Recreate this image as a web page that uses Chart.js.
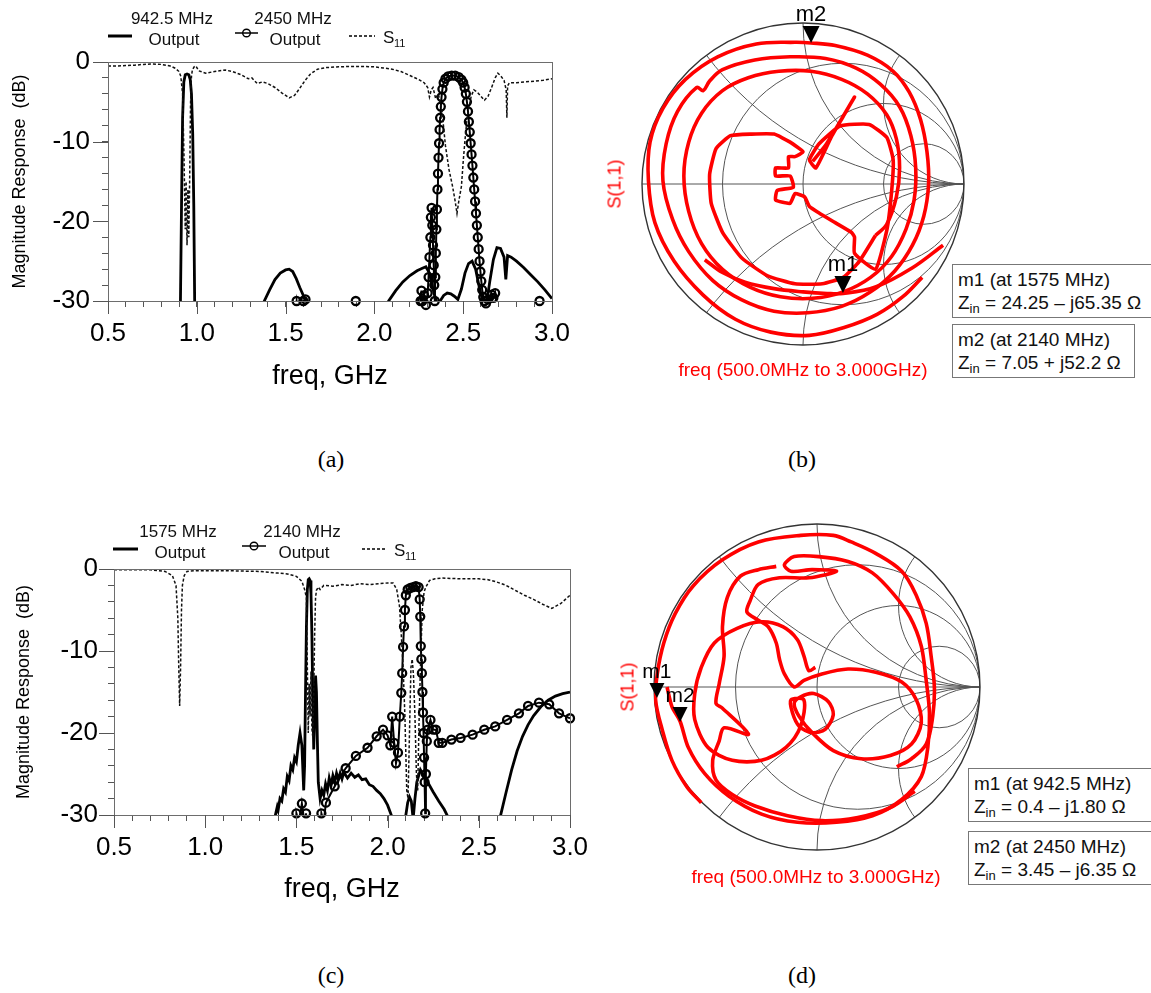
<!DOCTYPE html>
<html>
<head>
<meta charset="utf-8">
<script src="https://cdn.jsdelivr.net/npm/chart.js@4.4.1/dist/chart.umd.min.js"></script>
<style>
  html, body { margin: 0; padding: 0; background: #fff; }
  #page { position: relative; width: 1151px; height: 993px; overflow: hidden; font-family: "Liberation Sans", Arial, sans-serif; }
  canvas { position: absolute; }
  .cap { position: absolute; font: 24px "Liberation Serif", "Times New Roman", serif; color: #000; transform: translate(-50%, -50%); }
  .box { position: absolute; border: 1.5px solid #777; background: #fff; font-size: 19px; line-height: 23px; padding: 3px 5px; white-space: nowrap; color: #111; }
  .box sub { font-size: 13px; vertical-align: -4px; line-height: 0; }
  .red { position: absolute; color: #ff0000; font-size: 19px; white-space: nowrap; transform: translate(-50%, -50%); }
</style>
</head>
<body>
<div id="page">
  <canvas id="chartA" width="600" height="400" style="left:0;top:0"></canvas>
  <canvas id="chartB" width="400" height="400" style="left:600px;top:0"></canvas>
  <canvas id="chartC" width="600" height="420" style="left:0;top:500px"></canvas>
  <canvas id="chartD" width="400" height="400" style="left:600px;top:500px"></canvas>

  <div class="red" style="left:615px;top:184px;font-size:18px;transform:translate(-50%,-50%) rotate(-90deg)">S(1,1)</div>
  <div class="red" style="left:803px;top:370px">freq (500.0MHz to 3.000GHz)</div>
  <div class="box" style="left:952px;top:264px;width:200px">m1 (at 1575 MHz)<br>Z<sub>in</sub> = 24.25 – j65.35 Ω</div>
  <div class="box" style="left:952px;top:324px;width:171px">m2 (at 2140 MHz)<br>Z<sub>in</sub> = 7.05 + j52.2 Ω</div>

  <div class="red" style="left:628px;top:687px;font-size:18px;transform:translate(-50%,-50%) rotate(-90deg)">S(1,1)</div>
  <div class="red" style="left:816px;top:877px">freq (500.0MHz to 3.000GHz)</div>
  <div class="box" style="left:968px;top:768px;width:190px">m1 (at 942.5 MHz)<br>Z<sub>in</sub> = 0.4 – j1.80 Ω</div>
  <div class="box" style="left:968px;top:831px;width:190px">m2 (at 2450 MHz)<br>Z<sub>in</sub> = 3.45 – j6.35 Ω</div>

  <div class="cap" style="left:331px;top:459px">(a)</div>
  <div class="cap" style="left:802px;top:459px">(b)</div>
  <div class="cap" style="left:331px;top:975px">(c)</div>
  <div class="cap" style="left:802px;top:975px">(d)</div>
</div>
<script>
const FONT = '"Liberation Sans", Arial, sans-serif';

// axis ticks
const freqTicks = [0.5, 1.0, 1.5, 2.0, 2.5, 3.0];
const dbTicks = [0, -10, -20, -30];

// (a) [GHz, dB]; -40 means below the -30 dB floor of the plot
const outA942 = [[0.5,-40],[0.9,-40],[0.908,-30],[0.914,-18],[0.92,-7],[0.927,-2.5],[0.935,-1.6],[0.945,-1.5],[0.955,-1.6],[0.963,-2.2],[0.97,-4],[0.977,-9],[0.983,-18],[0.988,-30],[0.995,-40],
  [1.36,-40],[1.38,-30],[1.41,-28.6],[1.44,-27.3],[1.47,-26.5],[1.5,-26.1],[1.52,-26],[1.54,-26.3],[1.56,-27.2],[1.58,-28.3],[1.6,-29.3],[1.62,-30.5],[1.64,-40],
  [2.06,-40],[2.08,-30],[2.12,-28.7],[2.16,-27.6],[2.2,-26.8],[2.24,-26.2],[2.27,-25.9],[2.29,-25.7],[2.31,-26.5],[2.33,-28.5],[2.35,-30.2],[2.37,-30],[2.39,-29.3],[2.41,-29],[2.43,-29.1],[2.45,-29.4],[2.47,-29.8],
  [2.49,-28.5],[2.51,-26.5],[2.53,-25.3],[2.55,-25],[2.57,-26],[2.59,-28.2],[2.61,-30],[2.63,-30.5],[2.65,-27.5],[2.67,-24.8],[2.69,-23.3],[2.71,-23.4],[2.73,-24.5],[2.74,-27.3],[2.75,-24.3],[2.77,-24.5],
  [2.8,-25],[2.84,-25.8],[2.88,-26.7],[2.92,-27.6],[2.96,-28.6],[3.0,-29.7]];
const outA2450 = [[0.5,-40],[1.5,-40],[1.562,-30],[1.58,-33],[1.6,-30],[1.612,-29.8],[1.63,-40],[1.88,-40],[1.895,-30],[1.91,-40],
  [2.24,-40],[2.26,-30],[2.265,-28.7],[2.27,-30],[2.28,-29.3],[2.29,-30.5],[2.3,-29],[2.305,-27],[2.31,-24.5],[2.315,-22],[2.318,-19.5],[2.322,-18.3],[2.326,-20.5],[2.33,-23],[2.334,-25.5],[2.337,-28],[2.34,-30],
  [2.343,-27],[2.346,-24],[2.349,-21],[2.352,-18.5],[2.355,-16],[2.358,-14],[2.361,-12],[2.364,-10.2],[2.367,-8.5],[2.37,-7],[2.374,-5.6],[2.378,-4.4],[2.383,-3.4],[2.39,-2.6],[2.4,-2.1],
  [2.415,-1.8],[2.435,-1.7],[2.455,-1.7],[2.475,-1.9],[2.49,-2.2],[2.5,-2.6],[2.508,-3.2],[2.515,-4],[2.521,-5],[2.527,-6.2],[2.532,-7.5],[2.537,-8.8],[2.542,-10.2],[2.547,-11.6],[2.552,-13],
  [2.557,-14.5],[2.562,-16],[2.567,-17.5],[2.572,-19],[2.577,-20.5],[2.582,-22],[2.587,-23.5],[2.592,-25],[2.597,-26.3],[2.602,-27.5],[2.607,-28.6],[2.613,-29.5],[2.62,-30],[2.628,-30.3],
  [2.64,-29.8],[2.65,-31],[2.66,-29.2],[2.67,-29.6],[2.68,-29],[2.69,-31],[2.71,-40],[2.91,-40],[2.93,-30],[2.95,-40],[3.0,-40]];
const s11A = [[0.5,-0.5],[0.55,-0.5],[0.6,-0.45],[0.65,-0.4],[0.7,-0.3],[0.75,-0.25],[0.8,-0.3],[0.85,-0.5],[0.88,-0.8],[0.9,-1.2],[0.91,-1.8],[0.92,-4],[0.928,-12],[0.935,-21],[0.94,-15],
  [0.945,-23],[0.95,-16],[0.955,-22],[0.96,-14.5],[0.965,-5],[0.97,-1.8],[0.975,-1.0],[0.985,-0.6],[0.995,-0.5],[1.01,-1.1],[1.05,-1.4],[1.1,-1.2],[1.16,-1.0],[1.2,-1.2],[1.25,-1.6],[1.29,-2.1],
  [1.31,-2.0],[1.34,-2.7],[1.37,-2.5],[1.4,-2.7],[1.44,-3.2],[1.48,-3.9],[1.52,-4.5],[1.55,-4.2],[1.58,-3.3],[1.61,-2.3],[1.64,-1.5],[1.68,-0.9],[1.73,-0.7],[1.8,-0.6],[1.9,-0.55],[2.0,-0.6],
  [2.05,-0.75],[2.1,-0.9],[2.15,-1.2],[2.2,-1.7],[2.25,-2.2],[2.28,-2.6],[2.3,-3.2],[2.31,-4.4],[2.32,-3.5],[2.33,-3.2],[2.345,-4.6],[2.36,-4.0],[2.38,-6],[2.4,-10.5],[2.42,-13.5],[2.44,-15.6],
  [2.455,-17.5],[2.465,-19],[2.475,-17.5],[2.49,-15.6],[2.5,-12.5],[2.51,-9.8],[2.52,-7.5],[2.53,-6],[2.545,-4.3],[2.56,-3.5],[2.58,-3.8],[2.6,-4.3],[2.62,-4.8],[2.64,-4.3],[2.66,-3.2],
  [2.68,-2.0],[2.695,-1.4],[2.71,-1.7],[2.73,-2.3],[2.742,-3.5],[2.746,-7],[2.75,-3.0],[2.76,-2.6],[2.8,-2.6],[2.85,-2.5],[2.9,-2.4],[2.95,-2.3],[3.0,-2.1]];

// (c)
const outC1575 = [[0.5,-40],[1.37,-40],[1.385,-30],[1.395,-29],[1.4,-29.4],[1.41,-28],[1.42,-28.3],[1.43,-26.8],[1.44,-27.2],[1.45,-25.3],[1.46,-25.8],[1.47,-24],[1.48,-24.5],[1.49,-23],[1.5,-23.5],
  [1.51,-21.5],[1.52,-20],[1.53,-21.5],[1.54,-27],[1.545,-24],[1.55,-15],[1.555,-7],[1.56,-2.5],[1.565,-1.3],[1.57,-1.2],[1.575,-1.4],[1.58,-3],[1.585,-8],[1.59,-16],[1.595,-22],[1.6,-18],
  [1.605,-13],[1.61,-15],[1.615,-21],[1.62,-26],[1.63,-28],[1.64,-27],[1.65,-27.6],[1.66,-26.2],[1.67,-27],[1.68,-25.5],[1.69,-26.4],[1.7,-25.2],[1.71,-26],[1.72,-24.9],[1.73,-25.7],[1.74,-24.9],
  [1.75,-25.6],[1.76,-24.8],[1.78,-25.5],[1.8,-24.9],[1.82,-25.4],[1.84,-25.1],[1.86,-25.7],[1.88,-25.6],[1.9,-26.3],[1.92,-26.5],[1.94,-27],[1.96,-27.4],[1.98,-28],[2.0,-28.8],[2.02,-30],[2.03,-40],
  [2.09,-40],[2.1,-30],[2.11,-28.5],[2.12,-27.8],[2.13,-28.3],[2.14,-30.5],[2.15,-28],[2.16,-26],[2.18,-24.5],[2.2,-25.3],[2.22,-26],[2.25,-27.2],[2.28,-28.3],[2.31,-29.3],[2.33,-30.2],[2.35,-40],
  [2.6,-40],[2.62,-30],[2.65,-27.2],[2.68,-24.5],[2.71,-22.2],[2.74,-20.4],[2.77,-19],[2.8,-17.9],[2.84,-16.8],[2.88,-16],[2.92,-15.5],[2.96,-15.2],[3.0,-15.0]];
const outC2140 = [[0.5,-40],[1.49,-40],[1.5,-29.8],[1.515,-31],[1.53,-28.6],[1.545,-31],[1.553,-29.8],[1.57,-40],[1.62,-40],[1.637,-29.8],[1.65,-30.8],[1.662,-28.5],[1.71,-26.5],[1.77,-24.3],
  [1.826,-22.8],[1.89,-21.8],[1.94,-20.4],[1.975,-19.6],[2.0,-20.3],[2.015,-21.5],[2.025,-18],[2.036,-21.2],[2.046,-23.7],[2.057,-22.4],[2.067,-18],[2.075,-15.1],[2.08,-12.7],[2.085,-9.5],
  [2.09,-7],[2.095,-5],[2.1,-3.2],[2.11,-2.5],[2.125,-2.3],[2.14,-2.2],[2.155,-2.1],[2.17,-2.2],[2.176,-3.7],[2.179,-5.8],[2.182,-9.4],[2.185,-11],[2.188,-12.7],[2.191,-15],[2.194,-17.5],
  [2.197,-20],[2.2,-23],[2.203,-26],[2.206,-29.8],[2.21,-25],[2.215,-21],[2.22,-19.6],[2.235,-18.4],[2.25,-19.6],[2.265,-19.6],[2.28,-21.2],[2.3,-21.2],[2.35,-20.8],[2.4,-20.6],[2.466,-20.2],
  [2.53,-19.6],[2.59,-19.2],[2.655,-18.4],[2.72,-17.6],[2.77,-16.7],[2.83,-16.3],[2.886,-16.5],[2.94,-17.6],[3.0,-18.2]];
const s11C = [[0.5,-0.1],[0.6,-0.1],[0.7,-0.1],[0.78,-0.3],[0.82,-0.8],[0.84,-2.0],[0.85,-6],[0.855,-12],[0.86,-16.7],[0.865,-12],[0.87,-5],[0.875,-2],[0.885,-0.8],[0.9,-0.3],[0.95,-0.2],
  [1.1,-0.2],[1.2,-0.25],[1.3,-0.3],[1.4,-0.5],[1.45,-0.6],[1.5,-0.9],[1.53,-1.5],[1.545,-2.5],[1.555,-3.5],[1.56,-12],[1.565,-20],[1.57,-14],[1.575,-18],[1.58,-12.5],[1.585,-19.5],[1.59,-20.5],
  [1.595,-15],[1.6,-8],[1.605,-3.5],[1.61,-2.6],[1.62,-2.2],[1.63,-2.5],[1.65,-2.0],[1.7,-2.1],[1.75,-1.9],[1.8,-2.0],[1.85,-1.8],[1.9,-1.9],[1.95,-1.8],[2.0,-1.7],[2.03,-1.7],[2.05,-2.5],
  [2.065,-4.5],[2.075,-8],[2.085,-12],[2.095,-18],[2.105,-27],[2.112,-28],[2.12,-20],[2.128,-12],[2.135,-11],[2.142,-13],[2.15,-18],[2.158,-25],[2.165,-27],[2.172,-19],[2.18,-12],[2.19,-5],
  [2.2,-2.8],[2.21,-2.2],[2.23,-1.4],[2.26,-1.2],[2.3,-1.1],[2.4,-1.2],[2.5,-1.2],[2.55,-1.3],[2.6,-1.6],[2.65,-2.0],[2.7,-2.6],[2.75,-3.2],[2.8,-3.7],[2.85,-4.3],[2.9,-4.8],[2.95,-4.2],[3.0,-3.2]];

// (b) S(1,1) traces as reflection coefficient [Re, Im]
const traceB1 = [[0.74,-0.58],[0.62,-0.70],[0.46,-0.81],[0.26,-0.89],[0.04,-0.94],[-0.20,-0.92],[-0.42,-0.84],[-0.62,-0.69],[-0.80,-0.48],[-0.92,-0.24],[-0.96,0.02],[-0.95,0.26],[-0.87,0.47],
  [-0.73,0.65],[-0.53,0.79],[-0.29,0.87],[-0.05,0.88],[0.05,0.876],[0.20,0.86],[0.40,0.80],[0.56,0.70],[0.66,0.57],[0.73,0.40],[0.77,0.20],[0.78,0.00],[0.75,-0.20],[0.68,-0.38],[0.57,-0.54],
  [0.42,-0.67],[0.24,-0.76],[0.03,-0.80],[-0.18,-0.79],[-0.38,-0.72],[-0.56,-0.60],[-0.71,-0.42],[-0.81,-0.22],[-0.87,0.02],[-0.85,0.25],[-0.78,0.45],[-0.66,0.60],[-0.62,0.58],[-0.58,0.64],
  [-0.50,0.71],[-0.30,0.77],[-0.08,0.79],[0.14,0.78],[0.33,0.72],[0.48,0.62],[0.60,0.48],[0.67,0.30],[0.70,0.10],[0.69,-0.10],[0.64,-0.28],[0.55,-0.45],[0.42,-0.58],[0.25,-0.67],[0.06,-0.71],
  [-0.14,-0.70],[-0.33,-0.64],[-0.50,-0.53],[-0.63,-0.37],[-0.71,-0.17],[-0.74,0.05],[-0.71,0.26],[-0.63,0.44],[-0.50,0.58],[-0.34,0.66],[-0.15,0.70],[0.05,0.70],[0.24,0.65],[0.40,0.56],
  [0.52,0.43],[0.58,0.28],[0.60,0.10],[0.58,-0.08],[0.52,-0.25],[0.45,-0.32]];
const traceB2 = [[0.45,-0.32],[0.35,-0.48],[0.25,-0.58],[0.12,-0.62],[-0.05,-0.62],[-0.22,-0.57],[-0.38,-0.46],[-0.50,-0.30],[-0.57,-0.12],[-0.58,0.06],[-0.54,0.22],[-0.45,0.30],[-0.32,0.31],
  [-0.18,0.31],[-0.08,0.26],[0.00,0.20],[-0.05,0.17],[-0.09,0.17],[-0.09,0.10],[-0.17,0.10],[-0.17,0.05],[-0.08,0.05],[-0.06,-0.02],[-0.16,-0.04],[-0.17,-0.10],[-0.08,-0.12],[-0.05,-0.06],
  [0.01,-0.08],[0.04,-0.14],[0.10,-0.18],[0.20,-0.24],[0.30,-0.30],[0.32,-0.33],[0.32,-0.43],[0.45,-0.53],[0.52,-0.29],[0.55,-0.05],[0.56,0.15],[0.52,0.29],[0.41,0.37],[0.23,0.36],[0.10,0.25],
  [0.04,0.15],[0.08,0.10],[0.18,0.30],[0.32,0.54],[0.25,0.42],[0.14,0.24],[0.06,0.14]];
const traceB3 = [[-0.61,-0.47],[-0.50,-0.55],[-0.36,-0.61],[-0.18,-0.65],[0.00,-0.67],[0.15,-0.68],[0.25,-0.68],[0.45,-0.64],[0.68,-0.52],[0.87,-0.38]];
const markersB = [['m1', 0.248, -0.677], ['m2', 0.05, 0.876]];

// (d)
const traceD1 = [[-0.71,-0.71],[-0.80,-0.61],[-0.89,-0.45],[-0.95,-0.26],[-0.99,-0.08],[-0.98,0.08],[-0.94,0.27],[-0.87,0.45],[-0.76,0.62],[-0.58,0.78],[-0.36,0.89],[-0.10,0.93],[0.10,0.93],
  [0.21,0.89],[0.36,0.82],[0.52,0.71],[0.61,0.56],[0.67,0.39],[0.70,0.19],[0.72,0.00],[0.71,-0.18],[0.67,-0.35],[0.58,-0.44],[0.49,-0.49]];
const traceD2 = [[-0.92,0.00],[-0.89,-0.12],[-0.84,-0.21],[-0.79,-0.37],[-0.69,-0.53],[-0.54,-0.67],[-0.34,-0.78],[-0.12,-0.83],[0.12,-0.83],[0.34,-0.79],[0.52,-0.69],[0.64,-0.55],[0.68,-0.37],
  [0.69,-0.16],[0.67,0.04],[0.64,0.25],[0.57,0.43],[0.47,0.57],[0.34,0.70],[0.19,0.77],[0.01,0.80],[-0.14,0.80],[-0.20,0.75],[-0.16,0.71],[-0.03,0.72],[0.12,0.71],[-0.05,0.67],[-0.23,0.67],
  [-0.36,0.63],[-0.41,0.53],[-0.43,0.46],[-0.36,0.41],[-0.30,0.37],[-0.25,0.27],[-0.23,0.17],[-0.20,0.08],[-0.14,0.00],[-0.08,0.04],[0.03,0.08],[0.19,0.11],[0.36,0.09],[0.52,0.03],[0.61,-0.08],
  [0.64,-0.22],[0.58,-0.35],[0.45,-0.42],[0.27,-0.44],[0.10,-0.39],[-0.03,-0.28],[-0.11,-0.18],[-0.14,-0.10],[-0.10,-0.06],[-0.02,-0.04],[0.07,-0.09],[0.10,-0.17],[0.05,-0.26],[-0.03,-0.28],
  [-0.11,-0.24],[-0.15,-0.16],[-0.16,-0.08],[-0.08,-0.08],[-0.10,-0.24],[-0.19,-0.37],[-0.34,-0.45],[-0.52,-0.45],[-0.67,-0.37],[-0.75,-0.20],[-0.75,-0.04],[-0.71,0.12],[-0.63,0.27],[-0.49,0.36],
  [-0.34,0.40],[-0.21,0.37],[-0.12,0.29],[-0.08,0.19],[-0.05,0.10],[-0.01,0.12]];
const traceD3 = [[-0.25,0.74],[-0.36,0.72],[-0.47,0.68],[-0.55,0.55],[-0.58,0.37],[-0.57,0.19],[-0.60,0.02],[-0.62,-0.10],[-0.58,-0.13],[-0.42,-0.29],[-0.57,-0.25],[-0.60,-0.33],[-0.64,-0.45],
  [-0.62,-0.57],[-0.52,-0.66],[-0.38,-0.73],[-0.18,-0.79],[0.03,-0.82],[0.25,-0.80],[0.45,-0.74],[0.60,-0.64]];
const markersD = [['m1', -0.982, -0.067], ['m2', -0.84, -0.215]];

// Smith grid: constant resistance circles and reactance arcs
const smithR = [1 / 3, 1, 3];
const smithX = [0.5, 1, 2];

Chart.defaults.font.family = FONT;
Chart.defaults.color = '#000';

const xy = pairs => pairs.map(([x, y]) => ({ x, y }));
const near = (v, list) => list.some(t => Math.abs(t - v) < 1e-6);

// frame box and the long major ticks
const paperFrame = {
  id: 'paperFrame',
  afterDraw(chart) {
    const { ctx, chartArea: a, scales: { x, y } } = chart;
    ctx.save();
    ctx.strokeStyle = '#6d6d6d';
    ctx.lineWidth = 1;
    ctx.strokeRect(a.left + 0.5, a.top + 0.5, a.right - a.left, a.bottom - a.top);
    ctx.strokeStyle = '#555';
    ctx.beginPath();
    freqTicks.forEach(v => {
      const px = Math.round(x.getPixelForValue(v)) + 0.5;
      ctx.moveTo(px, a.bottom); ctx.lineTo(px, a.bottom + 13);
    });
    dbTicks.forEach(v => {
      const py = Math.round(y.getPixelForValue(v)) + 0.5;
      ctx.moveTo(a.left - 15, py); ctx.lineTo(a.left, py);
    });
    ctx.stroke();
    ctx.restore();
  }
};

const paperLegend = {
  id: 'paperLegend',
  afterDraw(chart, args, o) {
    const ctx = chart.ctx;
    ctx.save();
    ctx.fillStyle = '#111';
    ctx.strokeStyle = '#000';
    ctx.textBaseline = 'middle';
    o.items.forEach(it => {
      ctx.beginPath();
      ctx.lineWidth = it.type === 'solid' ? 3 : 1.5;
      ctx.setLineDash(it.type === 'dash' ? [3, 2] : []);
      ctx.moveTo(it.x1, it.y); ctx.lineTo(it.x2, it.y);
      ctx.stroke();
      ctx.setLineDash([]);
      if (it.type === 'circle') {
        ctx.beginPath(); ctx.lineWidth = 1.4;
        ctx.arc((it.x1 + it.x2) / 2, it.y, 3.8, 0, Math.PI * 2); ctx.stroke();
      }
      if (it.type === 'dash') {
        ctx.textAlign = 'left';
        ctx.font = `17px ${FONT}`;
        ctx.fillText('S', it.tx, o.row2 - 2);
        ctx.font = `11px ${FONT}`;
        ctx.fillText('11', it.tx + 11, o.row2 + 4);
      } else {
        ctx.textAlign = 'center';
        ctx.font = `17px ${FONT}`;
        ctx.fillText(it.l1, it.tx, o.row1);
        ctx.fillText('Output', it.tx + 2, o.row2);
      }
    });
    ctx.restore();
  }
};

function responseChart(id, solid, circ, s11, L) {
  return new Chart(document.getElementById(id), {
    type: 'line',
    data: {
      datasets: [
        { label: 'S11', data: xy(s11), borderColor: '#111', borderWidth: 1.5, borderDash: [3, 2], pointRadius: 0 },
        { label: L.names[0], data: xy(solid), borderColor: '#000', borderWidth: 2.8, pointRadius: 0 },
        { label: L.names[1], data: xy(circ), borderColor: '#000', borderWidth: 2, pointRadius: 0 },
        { label: L.names[1] + ' markers', data: xy(circ.filter(p => p[1] >= -30.6)), showLine: false,
          pointRadius: 4, pointBorderWidth: 2.3, pointBorderColor: '#000', pointBackgroundColor: 'rgba(0,0,0,0)', clip: false }
      ]
    },
    options: {
      responsive: false, animation: false, devicePixelRatio: 1,
      layout: { padding: { top: L.top, right: L.right, bottom: L.bottom, left: 0 } },
      plugins: {
        legend: { display: false }, tooltip: { enabled: false },
        paperLegend: { items: L.legend, row1: L.row1, row2: L.row2 }
      },
      scales: {
        x: {
          type: 'linear', min: 0.5, max: 3.0,
          afterFit: s => { s.height = L.xh; },
          ticks: { stepSize: 0.1, autoSkip: false, maxRotation: 0, minRotation: 0, padding: 11, color: '#000',
                   font: { size: 26 }, callback: v => near(v, freqTicks) ? v.toFixed(1) : '' },
          grid: { drawOnChartArea: false, tickLength: 6, tickColor: '#555' },
          border: { color: '#6d6d6d' },
          title: { display: true, text: 'freq, GHz', color: '#000', font: { size: 27 }, padding: { top: 0, bottom: 4 } }
        },
        y: {
          min: -30, max: 0,
          afterFit: s => { s.width = L.yw; },
          ticks: { stepSize: 2, autoSkip: false, padding: L.ypad, color: '#000', font: { size: 26 },
                   callback: v => near(v, dbTicks) ? String(Math.round(v)) : '' },
          grid: { drawOnChartArea: false, tickLength: 6, tickColor: '#555' },
          border: { color: '#6d6d6d' },
          title: { display: true, text: 'Magnitude Response  (dB)', color: '#000', font: { size: 18 }, padding: { top: L.ytp, bottom: 0 } }
        }
      }
    },
    plugins: [paperFrame, paperLegend]
  });
}

responseChart('chartA', outA942, outA2450, s11A, {
  names: ['942.5 MHz Output', '2450 MHz Output'],
  top: 62, right: 48, bottom: 3, xh: 96, yw: 108, ypad: 12, ytp: 9, row1: 19, row2: 40,
  legend: [
    { type: 'solid', x1: 108, x2: 132, y: 36, l1: '942.5 MHz', tx: 172 },
    { type: 'circle', x1: 235, x2: 258, y: 33, l1: '2450 MHz', tx: 293 },
    { type: 'dash', x1: 349, x2: 375, y: 36, tx: 383 }
  ]
});

responseChart('chartC', outC1575, outC2140, s11C, {
  names: ['1575 MHz Output', '2140 MHz Output'],
  top: 69, right: 30, bottom: 10, xh: 95, yw: 114, ypad: 10, ytp: 13, row1: 32, row2: 53,
  legend: [
    { type: 'solid', x1: 113, x2: 138, y: 49, l1: '1575 MHz', tx: 178 },
    { type: 'circle', x1: 242, x2: 266, y: 46, l1: '2140 MHz', tx: 302 },
    { type: 'dash', x1: 362, x2: 385, y: 49, tx: 394 }
  ]
});

const smithGrid = {
  id: 'smithGrid',
  beforeDatasetsDraw(chart) {
    const { ctx, scales: { x, y } } = chart;
    const cx = x.getPixelForValue(0), cy = y.getPixelForValue(0);
    const R = x.getPixelForValue(1) - cx;
    ctx.save();
    ctx.beginPath(); ctx.arc(cx, cy, R, 0, Math.PI * 2); ctx.clip();
    ctx.strokeStyle = '#555'; ctx.lineWidth = 1;
    smithR.forEach(r => {
      ctx.beginPath();
      ctx.arc(x.getPixelForValue(r / (1 + r)), cy, R / (1 + r), 0, Math.PI * 2);
      ctx.stroke();
    });
    smithX.forEach(xv => {
      [1, -1].forEach(s => {
        ctx.beginPath();
        ctx.arc(x.getPixelForValue(1), y.getPixelForValue(s / xv), R / xv, 0, Math.PI * 2);
        ctx.stroke();
      });
    });
    ctx.beginPath(); ctx.moveTo(cx - R, cy); ctx.lineTo(cx + R, cy); ctx.stroke();
    ctx.restore();
    ctx.save();
    ctx.strokeStyle = '#333'; ctx.lineWidth = 1.4;
    ctx.beginPath(); ctx.arc(cx, cy, R, 0, Math.PI * 2); ctx.stroke();
    ctx.restore();
  }
};

const smithMarkers = {
  id: 'smithMarkers',
  afterDatasetsDraw(chart, args, o) {
    const { ctx, scales: { x, y } } = chart;
    ctx.save();
    ctx.fillStyle = '#000';
    ctx.font = `${o.font}px ${FONT}`;
    ctx.textAlign = 'center'; ctx.textBaseline = 'middle';
    o.items.forEach(([name, re, im]) => {
      const px = x.getPixelForValue(re), py = y.getPixelForValue(im), h = o.size;
      ctx.beginPath();
      ctx.moveTo(px, py); ctx.lineTo(px - h / 2, py - h); ctx.lineTo(px + h / 2, py - h);
      ctx.closePath(); ctx.fill();
      ctx.fillText(name, px, py - h - 11);
    });
    ctx.restore();
  }
};

function smithChart(id, traces, markers, pad, size, font) {
  return new Chart(document.getElementById(id), {
    type: 'scatter',
    data: {
      datasets: traces.map(t => ({ data: xy(t.pts), showLine: true, borderColor: '#ff0000', borderWidth: 3.6,
                                   pointRadius: 0, tension: t.tension }))
    },
    options: {
      responsive: false, animation: false, devicePixelRatio: 1,
      layout: { padding: pad },
      scales: {
        x: { type: 'linear', min: -1, max: 1, display: false },
        y: { type: 'linear', min: -1, max: 1, display: false }
      },
      plugins: { legend: { display: false }, tooltip: { enabled: false },
                 smithMarkers: { items: markers, size, font } }
    },
    plugins: [smithGrid, smithMarkers]
  });
}

smithChart('chartB', [{ pts: traceB1, tension: 0.35 }, { pts: traceB2, tension: 0.15 }, { pts: traceB3, tension: 0.35 }],
  markersB, { left: 42, top: 23, right: 36, bottom: 55 }, 17, 22);
smithChart('chartD', [{ pts: traceD1, tension: 0.35 }, { pts: traceD2, tension: 0.3 }, { pts: traceD3, tension: 0.3 }],
  markersD, { left: 54, top: 24, right: 20, bottom: 50 }, 15, 21);
</script>
</body>
</html>
